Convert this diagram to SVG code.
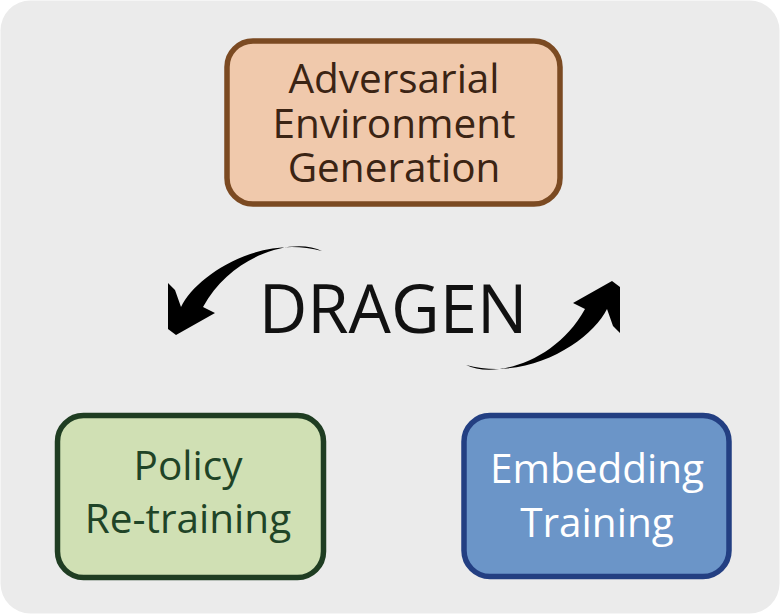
<svg xmlns="http://www.w3.org/2000/svg" width="780" height="614" viewBox="0 0 780 614">
<defs>
<style>
.lbl{font-family:"Open Sans","Noto Sans","Liberation Sans",sans-serif;font-size:40.5px;text-anchor:middle}
.box{stroke-width:5.5}
.arrow{fill:#000}
</style>
<path id="arr" d="M466,365 C494,379 556,362 585,309 L573,303 L612,281 L620,287 L620,333 L613,326 L607,309 C592,340 530,382 466,365 Z"/>
</defs>
<rect x="0.5" y="0.5" width="779" height="613" rx="30" fill="#ebebeb"/>
<g id="connectors">
<use href="#arr" class="arrow"/>
<use href="#arr" class="arrow" transform="rotate(180 394 308)"/>
</g>
<g id="title">
<text x="393" y="333" font-family="'Open Sans','Noto Sans','Liberation Sans',sans-serif" font-size="67" text-anchor="middle" fill="#111">DRAGEN</text>
</g>
<g id="adversarial">
<rect class="box" x="227" y="41" width="333" height="163" rx="26" fill="#f0c9ac" stroke="#7b4a22"/>
<text class="lbl" fill="#3b2414"><tspan x="394" y="93">Adversarial</tspan><tspan x="394" y="138">Environment</tspan><tspan x="394" y="182">Generation</tspan></text>
</g>
<g id="policy">
<rect class="box" x="57.5" y="415.5" width="266" height="162" rx="26" fill="#d0e0b4" stroke="#1f3d22"/>
<text class="lbl" fill="#1f4427"><tspan x="188" y="480">Policy</tspan><tspan x="188" y="533">Re-training</tspan></text>
</g>
<g id="embedding">
<rect class="box" x="464" y="415.5" width="265" height="161" rx="26" fill="#6b95c8" stroke="#233f82"/>
<text class="lbl" fill="#ffffff"><tspan x="597" y="483">Embedding</tspan><tspan x="597" y="537">Training</tspan></text>
</g>
</svg>
